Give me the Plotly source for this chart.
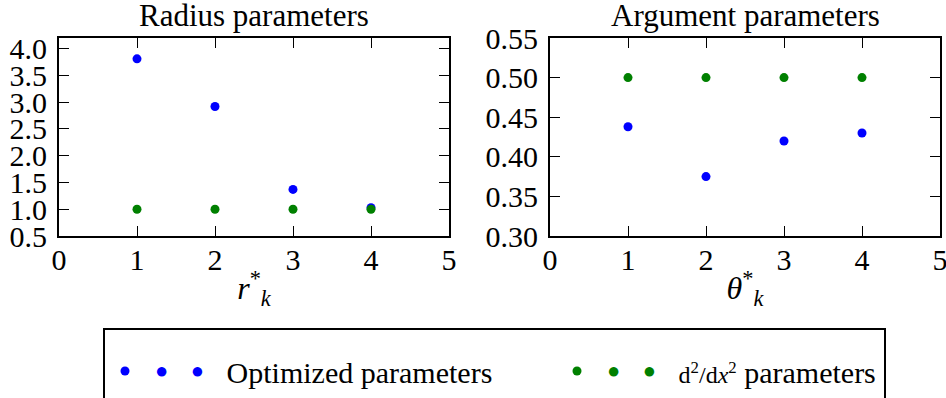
import plotly.graph_objects as go
from plotly.subplots import make_subplots

k_index = [1, 2, 3, 4]
radius_optimized = [3.81, 2.92, 1.37, 1.03]
radius_d2 = [1.0, 1.0, 1.0, 1.0]
argument_optimized = [0.438, 0.375, 0.42, 0.43]
argument_d2 = [0.5, 0.5, 0.5, 0.5]

subplot_titles = ["Radius parameters", "Argument parameters"]
series_names = ["Optimized parameters",
                "<span style='font-size:24px'>d<sup>2</sup>/d<i>x</i><sup>2</sup></span> parameters"]
x_titles = ["<i>r</i><sup>*</sup><sub><i>k</i></sub>", "<i>θ</i><sup>*</sup><sub><i>k</i></sub>"]

BLUE = "#0000ff"
GREEN = "#008000"
FONT = "Liberation Serif"

W, H = 946, 398
fig = make_subplots(rows=1, cols=2, horizontal_spacing=0.1)


def dot(color):
    return "<span style='color:%s;font-size:22px;baseline-shift:5px'>●</span>" % color


def legend_name(name, color):
    lead = "<span style='font-size:20px'>&nbsp;&nbsp;</span>"
    gap = "&nbsp;" * 3
    return lead + dot(color) + gap + dot(color) + "&nbsp;&nbsp;&nbsp;" + name


fig.add_trace(go.Scatter(x=k_index, y=radius_optimized, mode="markers",
                         marker=dict(color=BLUE, size=9), name=legend_name(series_names[0], BLUE),
                         legendgroup="a", legend="legend"), row=1, col=1)
fig.add_trace(go.Scatter(x=k_index, y=radius_d2, mode="markers",
                         marker=dict(color=GREEN, size=9), name=legend_name(series_names[1], GREEN),
                         legendgroup="b", legend="legend2"), row=1, col=1)
fig.add_trace(go.Scatter(x=k_index, y=argument_optimized, mode="markers",
                         marker=dict(color=BLUE, size=9), showlegend=False, legendgroup="a"), row=1, col=2)
fig.add_trace(go.Scatter(x=k_index, y=argument_d2, mode="markers",
                         marker=dict(color=GREEN, size=9), showlegend=False, legendgroup="b"), row=1, col=2)

y_top = 1 - 38 / H
y_bot = 1 - 236 / H
common_x = dict(range=[0, 5], dtick=1, tick0=0, ticks="inside", ticklen=10, tickwidth=1.3,
                tickcolor="black", showline=True, linecolor="black", linewidth=2, mirror="ticks",
                showgrid=False, zeroline=False, automargin=False, ticklabeloverflow="allow",
                ticklabelstandoff=-4,
                tickfont=dict(family=FONT, size=30, color="black"),
                title_font=dict(family=FONT, size=32, color="black"), title_standoff=2)
common_y = dict(ticks="inside", ticklen=10, tickwidth=1.3, tickcolor="black", showline=True,
                linecolor="black", linewidth=2, mirror="ticks", showgrid=False, zeroline=False,
                automargin=False, ticklabeloverflow="allow",
                tickfont=dict(family=FONT, size=30, color="black"), ticklabelstandoff=4)

fig.update_xaxes(common_x, row=1, col=1, domain=[59 / W, 449 / W], title_text=x_titles[0])
fig.update_xaxes(common_x, row=1, col=2, domain=[550 / W, 940 / W], title_text=x_titles[1])
fig.update_yaxes(common_y, row=1, col=1, domain=[y_bot, y_top], range=[0.5, 4.2], dtick=0.5,
                 tick0=0.5, tickformat=".1f")
fig.update_yaxes(common_y, row=1, col=2, domain=[y_bot, y_top], range=[0.3, 0.55], dtick=0.05,
                 tick0=0.3, tickformat=".2f")

for i, t in enumerate(subplot_titles):
    cx = (254 if i == 0 else 745) / W
    fig.add_annotation(text=t, x=cx, y=1 - 35 / H, xref="paper", yref="paper", xanchor="center",
                       yanchor="bottom", showarrow=False, font=dict(family=FONT, size=31, color="black"))

# legend frame
fig.add_shape(type="rect", xref="paper", yref="paper", x0=104 / W, x1=885 / W, y0=-0.1,
              y1=1 - 329 / H, line=dict(color="black", width=2), fillcolor="rgba(0,0,0,0)")

legend_common = dict(orientation="h", yanchor="middle", xanchor="left",
                     font=dict(family=FONT, size=30, color="black"), bgcolor="rgba(0,0,0,0)",
                     borderwidth=0, itemwidth=30, itemclick=False)
fig.update_layout(
    width=W, height=H, margin=dict(l=0, r=0, t=0, b=0, autoexpand=False),
    paper_bgcolor="white", plot_bgcolor="white",
    font=dict(family=FONT, color="black"),
    showlegend=True,
    legend=dict(legend_common, x=105 / W, y=1 - 371 / H),
    legend2=dict(legend_common, x=557 / W, y=1 - 371 / H),
)

fig.write_html("out.html")
